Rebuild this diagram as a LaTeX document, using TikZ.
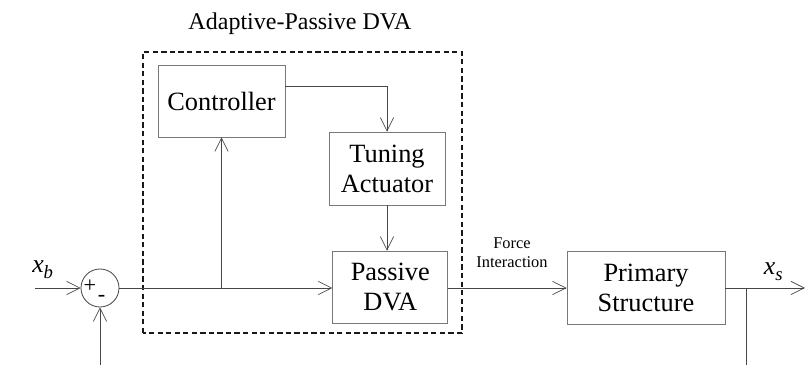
\documentclass[tikz,border=0pt]{standalone}
\usepackage{fontspec}
\setmainfont{Liberation Serif}
\usetikzlibrary{arrows.meta,positioning,calc}
\definecolor{boxGrey}{RGB}{120,120,120}
\definecolor{lineGrey}{RGB}{70,70,70}
\tikzset{dvapanel/.style={
  block/.style={draw=boxGrey, line width=0.6pt, inner sep=2pt, align=center, font=\rmfamily\fontsize{22.5}{25.5}\selectfont},
  sumj/.style={circle, draw=lineGrey, line width=0.7pt, minimum size=1.14cm, inner sep=0pt},
  sign/.style={font=\rmfamily\fontsize{19}{21}\selectfont, inner sep=0pt},
  sig/.style={-{Straight Barb[length=4mm, width=4mm, line width=0.6pt]}, line width=0.8pt, lineGrey},
  wire/.style={line width=0.8pt, lineGrey},
  group/.style={draw=black!90, line width=2.4pt, dash pattern=on 4.5pt off 2.8pt},
  siglab/.style={font=\rmfamily\fontsize{22}{25}\selectfont},
}}
\newcommand{\sigvar}[2]{\textit{#1}\raisebox{-0.45ex}{\fontsize{16}{18}\selectfont\textit{#2}}}

\begin{document}
\begin{tikzpicture}[dvapanel]
\useasboundingbox (0,0) rectangle (24.15,10.95);

% =====================================================================
% adaptive-passive DVA group
% =====================================================================
\node[font=\rmfamily\fontsize{20.5}{24}\selectfont] (title) at (9.0,10.23) {Adaptive-Passive DVA};
\draw[group] (4.29,0.96) rectangle (13.86,9.39);

\node[block, minimum width=3.81cm, minimum height=2.16cm] (ctrl) at (6.645,7.92) {Controller};
\node[block, minimum width=3.48cm, minimum height=2.19cm] (tune) at (11.61,5.895) {Tuning\\Actuator};
\node[block, minimum width=3.45cm, minimum height=2.16cm] (pdva) at (11.71,2.34) {Passive\\DVA};

% =====================================================================
% main path
% =====================================================================
\node[sumj] (sum) at (3.0,2.31) {};
\node[sign] (plus) at ($(sum.center)+(-0.3,0.05)$) {+};
\node[sign] (minus) at ($(sum.center)+(0.05,-0.3)$) {-};
\node[block, minimum width=4.74cm, minimum height=2.19cm] (prim) at (19.38,2.31) {Primary\\Structure};

\coordinate (xin) at (1.05,2.31);
\coordinate (fbin) at (3.0,0);
\coordinate (xout) at (24.15,2.31);
\coordinate (tap) at (6.645,2.31);
\coordinate (stap) at (22.38,2.31);
\coordinate (sdown) at (22.38,0);

\node[siglab] (xb) at (1.28,2.86) {\sigvar{x}{b}};
\node[siglab] (xs) at (23.2,2.8) {\sigvar{x}{s}};
\node[align=center, font=\rmfamily\fontsize{14}{16}\selectfont] (force) at (15.36,3.36) {Force\\Interaction};

\draw[sig] (xin) -- (sum.west);
\draw[sig] (fbin) -- (sum.south);
\draw[sig] (sum.east) -- (pdva.west |- sum.east);
\draw[sig] (tap) -- (ctrl.south);
\draw[sig] (ctrl.east |- 0,8.37) -| (tune.north);
\draw[sig] (tune.south) -- (pdva.north -| tune.south);
\draw[sig] (pdva.east |- sum.east) -- (prim.west);
\draw[sig] (prim.east) -- (xout);
\draw[wire] (stap) -- (sdown);

\end{tikzpicture}
\end{document}
